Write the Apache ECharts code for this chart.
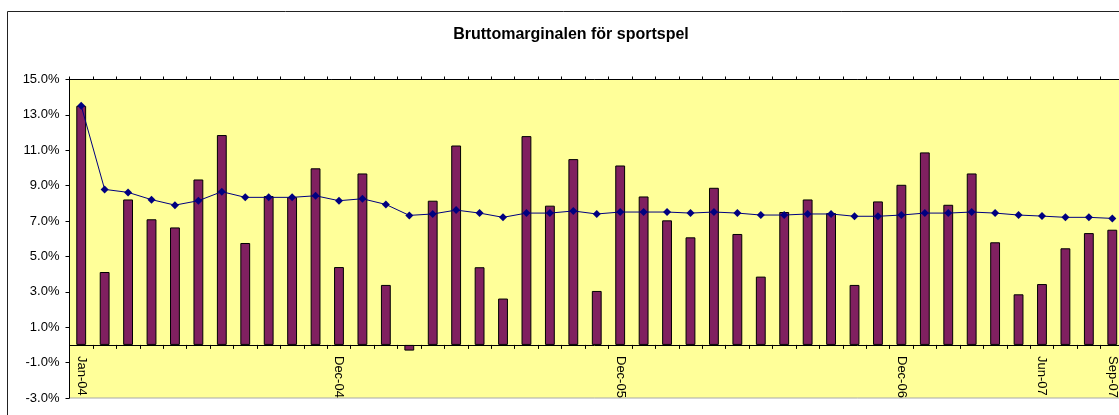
<!DOCTYPE html>
<html>
<head>
<meta charset="utf-8">
<script src="https://cdn.jsdelivr.net/npm/echarts@6/dist/echarts.min.js"></script>
<style>
html,body{margin:0;padding:0;background:#fff;}
#chart{width:1119px;height:415px;}
</style>
</head>
<body>
<div id="chart"></div>
<script>
const months = ["Jan-04","Feb-04","Mar-04","Apr-04","May-04","Jun-04","Jul-04","Aug-04","Sep-04","Oct-04","Nov-04","Dec-04",
"Jan-05","Feb-05","Mar-05","Apr-05","May-05","Jun-05","Jul-05","Aug-05","Sep-05","Oct-05","Nov-05","Dec-05",
"Jan-06","Feb-06","Mar-06","Apr-06","May-06","Jun-06","Jul-06","Aug-06","Sep-06","Oct-06","Nov-06","Dec-06",
"Jan-07","Feb-07","Mar-07","Apr-07","May-07","Jun-07","Jul-07","Aug-07","Sep-07"];
const shownLabels = ["Jan-04","Dec-04","Dec-05","Dec-06","Jun-07","Sep-07"];
const monthlyMargin = [13.51,4.12,8.22,7.10,6.64,9.35,11.86,5.76,8.41,8.35,9.98,4.40,
9.69,3.39,-0.32,8.15,11.27,4.39,2.62,11.80,7.87,10.50,3.05,10.14,
8.39,7.04,6.08,8.88,6.27,3.86,7.51,8.22,7.45,3.39,8.11,9.05,
10.88,7.92,9.69,5.80,2.86,3.44,5.46,6.32,6.51];
const averageMargin = [13.51,8.79,8.62,8.21,7.90,8.15,8.66,8.34,8.34,8.34,8.43,8.15,
8.26,7.94,7.32,7.40,7.62,7.45,7.21,7.45,7.45,7.57,7.40,7.51,
7.51,7.51,7.45,7.51,7.45,7.34,7.34,7.40,7.40,7.27,7.27,7.34,
7.45,7.45,7.51,7.45,7.34,7.28,7.21,7.21,7.15];
const titleText = "Bruttomarginalen för sportspel";

const chart = echarts.init(document.getElementById('chart'), null, {renderer:'canvas'});
const font = 'Arial, "Liberation Sans", sans-serif';
chart.setOption({
  animation:false,
  backgroundColor:'#ffffff',
  title:{
    text:titleText, left:571, top:27, padding:0, textAlign:'center',
    textStyle:{fontFamily:font, fontSize:16, fontWeight:'bold', color:'#000'}
  },
  graphic:[{
    type:'rect', silent:true, z:-1,
    shape:{x:7.5, y:11.5, width:1300, height:600},
    style:{fill:null, stroke:'#222', lineWidth:1}
  }],
  grid:{
    left:69.5, top:79.5, right:-5, bottom:17,
    containLabel:false, outerBoundsMode:'none',
    show:true, backgroundColor:'#FFFF99', borderColor:'#a8a8a8', borderWidth:1
  },
  xAxis:[{
    type:'category', data:months, position:'bottom',
    boundaryGap:true,
    axisLine:{onZero:true, lineStyle:{color:'#000', width:1}},
    axisTick:{show:true, interval:0, inside:false, length:4, lineStyle:{color:'#000'}},
    axisLabel:{
      interval:function(i, v){ return shownLabels.indexOf(v) >= 0; },
      rotate:-90, margin:-42, fontFamily:font, fontSize:13, color:'#000'
    },
    splitLine:{show:false}
  },{
    type:'category', data:months, position:'top',
    boundaryGap:true,
    axisLine:{onZero:true, lineStyle:{color:'#000', width:1}},
    axisTick:{show:true, interval:0, inside:false, length:3, lineStyle:{color:'#000'}},
    axisLabel:{show:false},
    splitLine:{show:false}
  }],
  yAxis:{
    type:'value', min:-3, max:15, interval:2,
    axisLine:{show:true, lineStyle:{color:'#000', width:1}},
    axisTick:{show:true, length:4, lineStyle:{color:'#000'}},
    axisLabel:{margin:10, fontFamily:font, fontSize:13, color:'#000',
      formatter:function(v){ return v.toFixed(1) + '%'; }},
    splitLine:{show:false}
  },
  series:[{
    type:'bar', data:monthlyMargin, barWidth:'42%', xAxisIndex:0,
    itemStyle:{color:'#802060', borderColor:'#000', borderWidth:1}
  },{
    type:'line', data:averageMargin, xAxisIndex:0, z:5,
    symbol:'diamond', symbolSize:8,
    lineStyle:{color:'#000080', width:1},
    itemStyle:{color:'#000080'}
  }]
});
</script>
</body>
</html>
